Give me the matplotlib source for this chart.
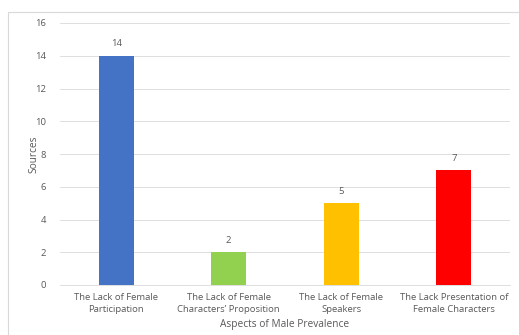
import matplotlib.pyplot as plt
from matplotlib.patches import Rectangle

# data
categories = ['The Lack of Female\nParticipation',
              'The Lack of Female\nCharacters\u2019 Proposition',
              'The Lack of Female\nSpeakers',
              'The Lack Presentation of\nFemale Characters']
sources = [14, 2, 5, 7]
colors = ['#4472C4', '#92D050', '#FFC000', '#FF0000']

plt.rcParams['font.family'] = ['Open Sans', 'DejaVu Sans']
txt = '#595959'

fig = plt.figure(figsize=(5.19, 3.35), dpi=100)
fig.patches.append(Rectangle((8 / 519, -0.01), 1.2, 1 - 12 / 335 + 0.01,
                             transform=fig.transFigure, fill=False,
                             edgecolor='#D9D9D9', linewidth=0.8))
ax = fig.add_axes([60 / 519, 1 - 285 / 335, 450 / 519, 262 / 335])

x = range(len(categories))
bars = ax.bar(x, sources, color=colors, width=0.31, zorder=3)
for bar, v in zip(bars, sources):
    ax.text(bar.get_x() + bar.get_width() / 2, v + 0.45, str(v),
            ha='center', va='bottom', fontsize=6.8, color=txt)

ax.set_xlim(-0.5, 3.5)
ax.set_ylim(0, 16)
ax.set_yticks(range(0, 17, 2))
ax.set_xticks(list(x))
ax.set_xticklabels(categories, fontsize=6.8, color=txt, linespacing=1.35)
ax.tick_params(axis='y', labelsize=6.8, labelcolor=txt, length=0, pad=10)
ax.tick_params(axis='x', length=0, pad=6)
ax.grid(axis='y', color='#D9D9D9', linewidth=0.6, zorder=0)
for s in ['top', 'right', 'left']:
    ax.spines[s].set_visible(False)
ax.spines['bottom'].set_color('#D9D9D9')
ax.spines['bottom'].set_linewidth(0.6)

ax.set_xlabel('Aspects of Male Prevalence', fontsize=7.3, color=txt, labelpad=4)
ax.set_ylabel('Sources', fontsize=7.3, color=txt)
ax.yaxis.set_label_coords(-0.045, 0.5)

plt.savefig('out.png', dpi=100)
